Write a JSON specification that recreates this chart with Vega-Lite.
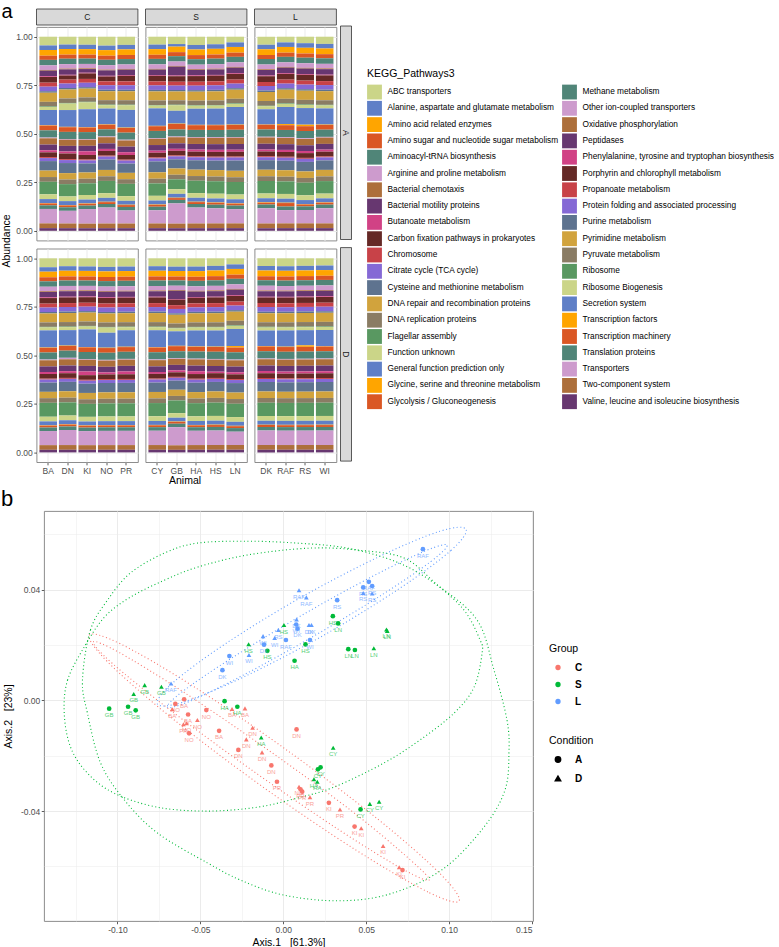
{
"$schema": "https://vega.github.io/schema/vega-lite/v6.json",
"padding": {"left": 1, "top": 1, "right": 0, "bottom": 0},
"background": "white",
"config": {
 "font": "Liberation Sans",
 "view": {"stroke": null},
 "axis": {"labelFontSize": 8.5, "labelColor": "#4d4d4d", "tickColor": "#333333", "tickSize": 2.75, "tickWidth": 0.8, "domain": false, "gridColor": "#ebebeb", "gridWidth": 1, "titleFontWeight": "normal", "titleFontSize": 10.5, "titleColor": "#000000", "labelPadding": 1.5},
 "legend": {"titleFontWeight": "normal", "titleColor": "#000000", "labelColor": "#000000", "padding": 0, "symbolLimit": 60},
 "title": {"fontWeight": "normal", "color": "#000000"}
},
"datasets": {
 "paths": [
  {"k":"p01","name":"ABC transporters","ord":1},
  {"k":"p02","name":"Alanine, aspartate and glutamate metabolism","ord":2},
  {"k":"p03","name":"Amino acid related enzymes","ord":3},
  {"k":"p04","name":"Amino sugar and nucleotide sugar metabolism","ord":4},
  {"k":"p05","name":"Aminoacyl-tRNA biosynthesis","ord":5},
  {"k":"p06","name":"Arginine and proline metabolism","ord":6},
  {"k":"p07","name":"Bacterial chemotaxis","ord":7},
  {"k":"p08","name":"Bacterial motility proteins","ord":8},
  {"k":"p09","name":"Butanoate metabolism","ord":9},
  {"k":"p10","name":"Carbon fixation pathways in prokaryotes","ord":10},
  {"k":"p11","name":"Chromosome","ord":11},
  {"k":"p12","name":"Citrate cycle (TCA cycle)","ord":12},
  {"k":"p13","name":"Cysteine and methionine metabolism","ord":13},
  {"k":"p14","name":"DNA repair and recombination proteins","ord":14},
  {"k":"p15","name":"DNA replication proteins","ord":15},
  {"k":"p16","name":"Flagellar assembly","ord":16},
  {"k":"p17","name":"Function unknown","ord":17},
  {"k":"p18","name":"General function prediction only","ord":18},
  {"k":"p19","name":"Glycine, serine and threonine metabolism","ord":19},
  {"k":"p20","name":"Glycolysis / Gluconeogenesis","ord":20},
  {"k":"p21","name":"Methane metabolism","ord":21},
  {"k":"p22","name":"Other ion-coupled transporters","ord":22},
  {"k":"p23","name":"Oxidative phosphorylation","ord":23},
  {"k":"p24","name":"Peptidases","ord":24},
  {"k":"p25","name":"Phenylalanine, tyrosine and tryptophan biosynthesis","ord":25},
  {"k":"p26","name":"Porphyrin and chlorophyll metabolism","ord":26},
  {"k":"p27","name":"Propanoate metabolism","ord":27},
  {"k":"p28","name":"Protein folding and associated processing","ord":28},
  {"k":"p29","name":"Purine metabolism","ord":29},
  {"k":"p30","name":"Pyrimidine metabolism","ord":30},
  {"k":"p31","name":"Pyruvate metabolism","ord":31},
  {"k":"p32","name":"Ribosome","ord":32},
  {"k":"p33","name":"Ribosome Biogenesis","ord":33},
  {"k":"p34","name":"Secretion system","ord":34},
  {"k":"p35","name":"Transcription factors","ord":35},
  {"k":"p36","name":"Transcription machinery","ord":36},
  {"k":"p37","name":"Translation proteins","ord":37},
  {"k":"p38","name":"Transporters","ord":38},
  {"k":"p39","name":"Two-component system","ord":39},
  {"k":"p40","name":"Valine, leucine and isoleucine biosynthesis","ord":40}
 ],
 "bars": [
  {"g":"C","c":"A","a":"BA","p01":4.6,"p02":2.4,"p03":3.0,"p04":2.2,"p05":2.9,"p06":2.4,"p07":0.4,"p08":2.9,"p09":0.4,"p10":3.0,"p11":2.1,"p12":2.4,"p13":0.8,"p14":4.8,"p15":2.4,"p16":0.3,"p17":1.6,"p18":8.0,"p19":0.2,"p20":2.5,"p21":3.8,"p22":0.4,"p23":3.3,"p24":3.0,"p25":1.1,"p26":2.5,"p27":0.5,"p28":1.6,"p29":5.0,"p30":3.4,"p31":2.5,"p32":6.6,"p33":2.5,"p34":2.1,"p35":0.2,"p36":1.0,"p37":1.9,"p38":7.6,"p39":2.5,"p40":1.4},
  {"g":"C","c":"A","a":"DN","p01":4.2,"p02":2.4,"p03":3.0,"p04":2.2,"p05":2.9,"p06":2.4,"p07":0.4,"p08":2.9,"p09":0.4,"p10":2.2,"p11":2.1,"p12":2.4,"p13":0.8,"p14":4.8,"p15":2.4,"p16":0.3,"p17":3.5,"p18":9.0,"p19":0.2,"p20":2.5,"p21":3.8,"p22":0.4,"p23":3.3,"p24":3.0,"p25":1.1,"p26":3.0,"p27":0.5,"p28":1.6,"p29":5.4,"p30":3.4,"p31":2.5,"p32":6.6,"p33":2.5,"p34":2.1,"p35":0.2,"p36":1.0,"p37":1.9,"p38":6.8,"p39":2.5,"p40":1.4},
  {"g":"C","c":"A","a":"KI","p01":4.4,"p02":2.4,"p03":3.0,"p04":2.2,"p05":2.9,"p06":2.4,"p07":0.4,"p08":2.0,"p09":0.4,"p10":3.0,"p11":2.1,"p12":2.4,"p13":0.8,"p14":4.8,"p15":2.4,"p16":0.3,"p17":3.8,"p18":9.8,"p19":0.2,"p20":2.5,"p21":3.8,"p22":0.4,"p23":3.3,"p24":3.0,"p25":2.0,"p26":2.5,"p27":0.5,"p28":1.6,"p29":5.0,"p30":3.4,"p31":2.5,"p32":6.4,"p33":2.5,"p34":2.1,"p35":0.2,"p36":1.0,"p37":1.9,"p38":8.0,"p39":2.5,"p40":1.4},
  {"g":"C","c":"A","a":"NO","p01":4.8,"p02":2.4,"p03":3.0,"p04":2.2,"p05":2.9,"p06":2.4,"p07":0.4,"p08":2.9,"p09":0.4,"p10":2.6,"p11":2.1,"p12":2.4,"p13":0.8,"p14":4.8,"p15":2.4,"p16":0.3,"p17":1.8,"p18":8.5,"p19":0.2,"p20":2.5,"p21":3.8,"p22":0.4,"p23":3.3,"p24":3.0,"p25":1.1,"p26":2.5,"p27":0.5,"p28":1.6,"p29":5.6,"p30":3.4,"p31":2.5,"p32":6.6,"p33":2.5,"p34":2.1,"p35":0.2,"p36":1.0,"p37":1.9,"p38":8.6,"p39":2.5,"p40":1.4},
  {"g":"C","c":"A","a":"PR","p01":4.4,"p02":2.4,"p03":3.0,"p04":2.2,"p05":2.9,"p06":2.4,"p07":0.4,"p08":2.9,"p09":0.4,"p10":3.0,"p11":2.1,"p12":2.4,"p13":0.8,"p14":4.8,"p15":2.4,"p16":0.3,"p17":2.5,"p18":9.5,"p19":0.2,"p20":2.5,"p21":3.8,"p22":0.4,"p23":3.3,"p24":3.0,"p25":1.5,"p26":2.5,"p27":0.5,"p28":1.6,"p29":5.0,"p30":3.4,"p31":2.5,"p32":6.6,"p33":2.5,"p34":2.1,"p35":0.2,"p36":1.0,"p37":1.9,"p38":7.0,"p39":2.5,"p40":1.4},
  {"g":"S","c":"A","a":"CY","p01":4.2,"p02":2.4,"p03":3.0,"p04":2.2,"p05":2.9,"p06":2.4,"p07":0.4,"p08":2.9,"p09":0.4,"p10":3.0,"p11":2.1,"p12":2.4,"p13":0.8,"p14":4.8,"p15":2.4,"p16":0.3,"p17":1.5,"p18":9.3,"p19":0.2,"p20":2.5,"p21":3.8,"p22":0.4,"p23":3.3,"p24":3.0,"p25":1.1,"p26":2.5,"p27":0.5,"p28":1.6,"p29":5.8,"p30":3.4,"p31":2.5,"p32":6.6,"p33":2.5,"p34":2.1,"p35":0.2,"p36":1.0,"p37":1.9,"p38":7.0,"p39":2.5,"p40":1.4},
  {"g":"S","c":"A","a":"GB","p01":4.0,"p02":1.4,"p03":3.0,"p04":2.2,"p05":2.9,"p06":2.4,"p07":0.4,"p08":4.8,"p09":0.4,"p10":3.0,"p11":2.1,"p12":2.4,"p13":0.8,"p14":4.8,"p15":2.4,"p16":0.3,"p17":3.0,"p18":7.0,"p19":0.2,"p20":3.0,"p21":3.8,"p22":0.4,"p23":3.3,"p24":3.0,"p25":1.1,"p26":2.5,"p27":0.5,"p28":1.6,"p29":5.0,"p30":3.4,"p31":2.5,"p32":5.4,"p33":2.5,"p34":2.1,"p35":0.2,"p36":1.0,"p37":1.9,"p38":11.0,"p39":2.5,"p40":1.4},
  {"g":"S","c":"A","a":"HA","p01":4.4,"p02":2.4,"p03":3.0,"p04":2.2,"p05":2.9,"p06":2.4,"p07":0.4,"p08":2.9,"p09":0.4,"p10":3.0,"p11":2.1,"p12":2.4,"p13":0.8,"p14":4.8,"p15":2.4,"p16":0.3,"p17":1.6,"p18":8.6,"p19":0.2,"p20":2.5,"p21":3.8,"p22":0.4,"p23":3.3,"p24":3.0,"p25":1.1,"p26":2.5,"p27":0.5,"p28":1.6,"p29":5.0,"p30":3.4,"p31":2.5,"p32":6.6,"p33":2.5,"p34":2.1,"p35":0.2,"p36":1.0,"p37":1.9,"p38":8.5,"p39":2.5,"p40":1.4},
  {"g":"S","c":"A","a":"HS","p01":4.0,"p02":2.4,"p03":3.0,"p04":2.2,"p05":2.9,"p06":2.4,"p07":0.4,"p08":2.9,"p09":0.4,"p10":3.0,"p11":2.1,"p12":2.4,"p13":0.8,"p14":4.8,"p15":2.4,"p16":0.3,"p17":1.6,"p18":8.6,"p19":0.2,"p20":2.5,"p21":3.8,"p22":0.4,"p23":3.3,"p24":3.0,"p25":1.1,"p26":2.5,"p27":0.5,"p28":1.6,"p29":5.0,"p30":3.4,"p31":2.5,"p32":6.6,"p33":2.5,"p34":2.1,"p35":0.2,"p36":1.0,"p37":1.9,"p38":8.0,"p39":2.5,"p40":1.4},
  {"g":"S","c":"A","a":"LN","p01":3.0,"p02":2.4,"p03":3.0,"p04":2.2,"p05":2.9,"p06":2.4,"p07":0.4,"p08":2.9,"p09":0.4,"p10":3.0,"p11":2.1,"p12":2.4,"p13":0.8,"p14":4.8,"p15":2.4,"p16":0.3,"p17":1.6,"p18":9.3,"p19":0.2,"p20":2.5,"p21":3.8,"p22":0.4,"p23":3.3,"p24":3.0,"p25":1.1,"p26":2.5,"p27":0.5,"p28":1.6,"p29":5.4,"p30":3.4,"p31":2.5,"p32":6.6,"p33":2.5,"p34":2.1,"p35":0.2,"p36":1.0,"p37":1.9,"p38":7.5,"p39":2.5,"p40":1.4},
  {"g":"L","c":"A","a":"DK","p01":4.2,"p02":2.4,"p03":3.0,"p04":2.2,"p05":2.9,"p06":2.4,"p07":0.4,"p08":2.9,"p09":0.4,"p10":3.0,"p11":2.1,"p12":2.4,"p13":0.8,"p14":4.8,"p15":2.4,"p16":0.3,"p17":1.6,"p18":8.0,"p19":0.2,"p20":2.5,"p21":3.8,"p22":0.4,"p23":3.3,"p24":3.0,"p25":1.1,"p26":2.5,"p27":0.5,"p28":1.6,"p29":5.0,"p30":3.4,"p31":2.5,"p32":6.6,"p33":2.5,"p34":2.1,"p35":0.2,"p36":1.0,"p37":1.9,"p38":8.0,"p39":2.5,"p40":1.4},
  {"g":"L","c":"A","a":"RAF","p01":3.0,"p02":2.4,"p03":3.0,"p04":2.2,"p05":2.9,"p06":2.4,"p07":0.4,"p08":2.9,"p09":0.4,"p10":3.0,"p11":2.1,"p12":2.4,"p13":0.8,"p14":4.8,"p15":2.4,"p16":0.3,"p17":1.6,"p18":9.0,"p19":0.6,"p20":2.5,"p21":3.8,"p22":0.4,"p23":3.3,"p24":3.0,"p25":1.1,"p26":2.5,"p27":0.5,"p28":1.6,"p29":5.0,"p30":3.4,"p31":2.5,"p32":6.6,"p33":2.5,"p34":2.1,"p35":0.2,"p36":1.8,"p37":1.9,"p38":7.0,"p39":2.5,"p40":1.4},
  {"g":"L","c":"A","a":"RS","p01":3.4,"p02":2.4,"p03":3.0,"p04":2.2,"p05":2.9,"p06":2.4,"p07":0.4,"p08":2.9,"p09":0.4,"p10":3.0,"p11":2.1,"p12":2.4,"p13":0.8,"p14":4.8,"p15":2.4,"p16":0.3,"p17":1.6,"p18":8.7,"p19":0.8,"p20":2.5,"p21":3.8,"p22":0.4,"p23":3.3,"p24":3.0,"p25":1.1,"p26":2.5,"p27":0.5,"p28":1.6,"p29":5.0,"p30":3.4,"p31":2.5,"p32":6.6,"p33":2.5,"p34":2.1,"p35":0.2,"p36":1.0,"p37":1.9,"p38":7.0,"p39":2.5,"p40":1.4},
  {"g":"L","c":"A","a":"WI","p01":3.8,"p02":2.4,"p03":3.0,"p04":2.2,"p05":2.9,"p06":2.4,"p07":0.4,"p08":2.9,"p09":0.4,"p10":3.0,"p11":2.1,"p12":2.4,"p13":0.8,"p14":4.8,"p15":2.4,"p16":0.3,"p17":1.6,"p18":8.5,"p19":0.2,"p20":2.5,"p21":3.8,"p22":0.4,"p23":3.3,"p24":3.0,"p25":1.1,"p26":2.5,"p27":0.5,"p28":1.6,"p29":5.0,"p30":3.4,"p31":2.5,"p32":6.6,"p33":2.5,"p34":2.1,"p35":0.2,"p36":1.0,"p37":1.9,"p38":8.0,"p39":2.5,"p40":1.4},
  {"g":"C","c":"D","a":"BA","p01":4.8,"p02":2.4,"p03":3.0,"p04":2.2,"p05":2.9,"p06":2.4,"p07":0.4,"p08":2.9,"p09":0.4,"p10":3.0,"p11":2.1,"p12":2.4,"p13":0.8,"p14":4.8,"p15":2.4,"p16":0.3,"p17":1.6,"p18":9.2,"p19":0.2,"p20":2.5,"p21":3.8,"p22":0.4,"p23":3.3,"p24":3.0,"p25":1.1,"p26":2.5,"p27":0.5,"p28":1.6,"p29":5.0,"p30":3.4,"p31":2.5,"p32":7.5,"p33":2.5,"p34":2.1,"p35":0.2,"p36":1.0,"p37":1.9,"p38":7.6,"p39":2.5,"p40":1.4},
  {"g":"C","c":"D","a":"DN","p01":4.2,"p02":2.4,"p03":3.0,"p04":2.2,"p05":2.9,"p06":2.4,"p07":0.4,"p08":2.9,"p09":0.4,"p10":3.0,"p11":2.1,"p12":2.4,"p13":0.8,"p14":4.8,"p15":2.4,"p16":0.3,"p17":1.6,"p18":8.2,"p19":0.2,"p20":2.5,"p21":3.8,"p22":0.8,"p23":3.3,"p24":3.0,"p25":1.1,"p26":2.5,"p27":0.5,"p28":1.6,"p29":5.0,"p30":3.4,"p31":2.5,"p32":7.0,"p33":2.5,"p34":2.1,"p35":0.2,"p36":1.0,"p37":1.9,"p38":8.0,"p39":2.5,"p40":1.4},
  {"g":"C","c":"D","a":"KI","p01":4.4,"p02":2.4,"p03":3.0,"p04":2.2,"p05":2.9,"p06":2.4,"p07":0.4,"p08":2.9,"p09":0.4,"p10":3.0,"p11":2.1,"p12":2.4,"p13":0.8,"p14":4.8,"p15":2.4,"p16":0.3,"p17":1.6,"p18":9.5,"p19":0.2,"p20":2.5,"p21":3.8,"p22":0.4,"p23":3.3,"p24":3.0,"p25":2.0,"p26":2.5,"p27":0.5,"p28":1.6,"p29":5.0,"p30":3.4,"p31":2.5,"p32":7.0,"p33":2.5,"p34":2.1,"p35":0.2,"p36":1.0,"p37":1.9,"p38":7.6,"p39":2.5,"p40":1.4},
  {"g":"C","c":"D","a":"NO","p01":4.6,"p02":2.4,"p03":3.0,"p04":2.2,"p05":2.9,"p06":2.4,"p07":0.4,"p08":2.9,"p09":0.4,"p10":3.0,"p11":2.1,"p12":2.4,"p13":0.8,"p14":4.8,"p15":2.4,"p16":0.3,"p17":2.8,"p18":8.0,"p19":0.2,"p20":2.5,"p21":3.8,"p22":0.4,"p23":3.3,"p24":3.0,"p25":1.1,"p26":2.5,"p27":0.5,"p28":1.6,"p29":5.0,"p30":3.4,"p31":2.5,"p32":7.0,"p33":2.5,"p34":2.1,"p35":0.2,"p36":1.0,"p37":1.9,"p38":7.6,"p39":2.5,"p40":1.4},
  {"g":"C","c":"D","a":"PR","p01":4.4,"p02":2.4,"p03":3.0,"p04":2.2,"p05":2.9,"p06":2.4,"p07":0.4,"p08":2.9,"p09":0.4,"p10":3.0,"p11":2.1,"p12":2.4,"p13":0.8,"p14":4.8,"p15":2.4,"p16":0.3,"p17":1.6,"p18":8.8,"p19":0.2,"p20":2.5,"p21":3.8,"p22":0.4,"p23":3.3,"p24":3.0,"p25":1.5,"p26":2.5,"p27":0.5,"p28":1.6,"p29":5.0,"p30":3.4,"p31":2.5,"p32":7.0,"p33":2.5,"p34":2.1,"p35":0.2,"p36":1.0,"p37":1.9,"p38":7.6,"p39":2.5,"p40":1.4},
  {"g":"S","c":"D","a":"CY","p01":4.2,"p02":2.4,"p03":3.0,"p04":2.2,"p05":2.9,"p06":2.4,"p07":0.4,"p08":2.9,"p09":0.4,"p10":3.0,"p11":2.1,"p12":2.4,"p13":0.8,"p14":4.8,"p15":2.4,"p16":0.3,"p17":1.6,"p18":9.0,"p19":0.2,"p20":2.5,"p21":3.8,"p22":0.4,"p23":3.3,"p24":3.0,"p25":1.0,"p26":2.5,"p27":0.5,"p28":1.6,"p29":5.0,"p30":3.4,"p31":2.5,"p32":7.0,"p33":2.5,"p34":2.1,"p35":0.2,"p36":1.0,"p37":1.9,"p38":7.6,"p39":2.5,"p40":1.4},
  {"g":"S","c":"D","a":"GB","p01":4.6,"p02":2.4,"p03":3.0,"p04":2.2,"p05":2.9,"p06":2.4,"p07":0.4,"p08":4.5,"p09":0.4,"p10":3.0,"p11":2.1,"p12":2.4,"p13":0.8,"p14":4.8,"p15":2.4,"p16":0.3,"p17":1.6,"p18":8.0,"p19":0.2,"p20":2.8,"p21":3.8,"p22":0.4,"p23":3.3,"p24":3.0,"p25":1.1,"p26":2.5,"p27":0.5,"p28":1.6,"p29":5.0,"p30":3.4,"p31":2.5,"p32":7.0,"p33":2.5,"p34":2.1,"p35":0.2,"p36":1.0,"p37":1.9,"p38":10.0,"p39":2.5,"p40":1.4},
  {"g":"S","c":"D","a":"HA","p01":4.4,"p02":2.4,"p03":3.0,"p04":2.2,"p05":2.9,"p06":2.4,"p07":0.4,"p08":2.9,"p09":0.4,"p10":3.0,"p11":2.1,"p12":2.4,"p13":0.8,"p14":4.8,"p15":2.4,"p16":0.3,"p17":1.6,"p18":8.5,"p19":0.2,"p20":2.5,"p21":3.8,"p22":0.4,"p23":3.3,"p24":3.0,"p25":1.5,"p26":2.5,"p27":0.5,"p28":1.6,"p29":5.0,"p30":3.4,"p31":2.5,"p32":7.0,"p33":2.5,"p34":2.1,"p35":0.2,"p36":1.0,"p37":1.9,"p38":7.6,"p39":2.5,"p40":1.4},
  {"g":"S","c":"D","a":"HS","p01":4.0,"p02":2.4,"p03":3.0,"p04":2.2,"p05":2.9,"p06":2.4,"p07":0.4,"p08":2.9,"p09":0.4,"p10":3.0,"p11":2.1,"p12":2.4,"p13":0.8,"p14":4.8,"p15":2.4,"p16":0.3,"p17":1.6,"p18":8.5,"p19":0.2,"p20":2.5,"p21":3.8,"p22":0.4,"p23":3.3,"p24":3.0,"p25":0.8,"p26":2.5,"p27":0.5,"p28":1.6,"p29":5.0,"p30":3.4,"p31":2.5,"p32":7.0,"p33":2.5,"p34":2.1,"p35":0.2,"p36":1.0,"p37":1.9,"p38":7.6,"p39":2.5,"p40":1.4},
  {"g":"S","c":"D","a":"LN","p01":3.2,"p02":2.4,"p03":3.0,"p04":2.2,"p05":2.9,"p06":2.4,"p07":0.4,"p08":2.9,"p09":0.4,"p10":3.0,"p11":2.1,"p12":2.4,"p13":0.8,"p14":4.8,"p15":2.4,"p16":0.3,"p17":1.6,"p18":9.0,"p19":0.8,"p20":2.5,"p21":3.8,"p22":0.4,"p23":3.3,"p24":3.0,"p25":1.1,"p26":2.5,"p27":0.5,"p28":1.6,"p29":5.0,"p30":3.4,"p31":2.5,"p32":7.0,"p33":2.5,"p34":2.1,"p35":0.2,"p36":1.0,"p37":1.9,"p38":7.0,"p39":2.5,"p40":1.4},
  {"g":"L","c":"D","a":"DK","p01":4.0,"p02":2.4,"p03":3.0,"p04":2.2,"p05":2.9,"p06":2.4,"p07":0.4,"p08":2.9,"p09":0.4,"p10":3.0,"p11":2.1,"p12":2.4,"p13":0.8,"p14":4.8,"p15":2.4,"p16":0.3,"p17":1.6,"p18":8.2,"p19":0.2,"p20":2.5,"p21":3.8,"p22":0.4,"p23":3.3,"p24":3.0,"p25":1.1,"p26":2.5,"p27":0.5,"p28":1.6,"p29":5.0,"p30":3.4,"p31":2.5,"p32":7.0,"p33":2.5,"p34":2.1,"p35":0.2,"p36":1.0,"p37":1.9,"p38":7.6,"p39":2.5,"p40":1.4},
  {"g":"L","c":"D","a":"RAF","p01":4.2,"p02":2.4,"p03":3.0,"p04":2.2,"p05":2.9,"p06":2.4,"p07":0.4,"p08":2.9,"p09":0.4,"p10":3.0,"p11":2.1,"p12":2.4,"p13":0.8,"p14":4.8,"p15":2.4,"p16":0.3,"p17":1.6,"p18":8.6,"p19":0.2,"p20":2.5,"p21":3.8,"p22":0.4,"p23":3.3,"p24":3.0,"p25":1.1,"p26":2.5,"p27":0.5,"p28":1.6,"p29":5.0,"p30":3.4,"p31":2.5,"p32":7.0,"p33":2.5,"p34":2.1,"p35":0.2,"p36":1.0,"p37":1.9,"p38":7.6,"p39":2.5,"p40":1.4},
  {"g":"L","c":"D","a":"RS","p01":4.0,"p02":2.4,"p03":3.0,"p04":2.2,"p05":2.9,"p06":2.4,"p07":0.4,"p08":2.9,"p09":0.4,"p10":3.0,"p11":2.1,"p12":2.4,"p13":0.8,"p14":4.8,"p15":2.4,"p16":0.3,"p17":1.6,"p18":8.0,"p19":0.8,"p20":2.5,"p21":3.8,"p22":0.4,"p23":3.3,"p24":3.0,"p25":1.1,"p26":2.5,"p27":0.5,"p28":1.6,"p29":5.0,"p30":3.4,"p31":2.5,"p32":7.0,"p33":2.5,"p34":2.1,"p35":0.2,"p36":1.0,"p37":1.9,"p38":7.6,"p39":2.5,"p40":1.4},
  {"g":"L","c":"D","a":"WI","p01":3.8,"p02":2.4,"p03":3.0,"p04":2.2,"p05":2.9,"p06":2.4,"p07":0.4,"p08":2.9,"p09":0.4,"p10":3.0,"p11":2.1,"p12":2.4,"p13":0.8,"p14":4.8,"p15":2.4,"p16":0.3,"p17":1.6,"p18":8.5,"p19":0.2,"p20":2.5,"p21":3.8,"p22":0.4,"p23":3.3,"p24":3.0,"p25":1.1,"p26":2.5,"p27":0.5,"p28":1.6,"p29":5.0,"p30":3.4,"p31":2.5,"p32":7.0,"p33":2.5,"p34":2.1,"p35":0.2,"p36":1.0,"p37":1.9,"p38":7.6,"p39":2.5,"p40":1.4}
 ],
 "pts": [
  {"g":"C","c":"A","a":"BA","x":-0.0598,"y":0.0004},{"g":"C","c":"A","a":"BA","x":-0.0574,"y":-0.0051},{"g":"C","c":"A","a":"BA","x":-0.0387,"y":-0.0110},
  {"g":"C","c":"A","a":"NO","x":-0.0651,"y":-0.0013},{"g":"C","c":"A","a":"NO","x":-0.0464,"y":-0.0035},{"g":"C","c":"A","a":"NO","x":-0.0568,"y":-0.0119},
  {"g":"C","c":"A","a":"DN","x":-0.0271,"y":-0.0179},{"g":"C","c":"A","a":"DN","x":-0.0072,"y":-0.0235},{"g":"C","c":"A","a":"DN","x":0.0080,"y":-0.0105},
  {"g":"C","c":"A","a":"PR","x":-0.0038,"y":-0.0294},{"g":"C","c":"A","a":"PR","x":0.0104,"y":-0.0321},{"g":"C","c":"A","a":"PR","x":0.0114,"y":-0.0330},
  {"g":"C","c":"A","a":"KI","x":0.0275,"y":-0.0370},{"g":"C","c":"A","a":"KI","x":0.0430,"y":-0.0456},{"g":"C","c":"A","a":"KI","x":0.0719,"y":-0.0613},
  {"g":"C","c":"D","a":"BA","x":-0.0669,"y":-0.0032},{"g":"C","c":"D","a":"BA","x":-0.0309,"y":-0.0031},{"g":"C","c":"D","a":"BA","x":-0.0231,"y":-0.0029},
  {"g":"C","c":"D","a":"NO","x":-0.0583,"y":-0.0083},{"g":"C","c":"D","a":"NO","x":-0.0518,"y":-0.0071},{"g":"C","c":"D","a":"NO","x":0.0095,"y":-0.0312},
  {"g":"C","c":"D","a":"PR","x":-0.0602,"y":-0.0086},{"g":"C","c":"D","a":"PR","x":0.0161,"y":-0.0350},{"g":"C","c":"D","a":"PR","x":0.0342,"y":-0.0394},
  {"g":"C","c":"D","a":"DN","x":-0.0185,"y":-0.0099},{"g":"C","c":"D","a":"DN","x":-0.0223,"y":-0.0141},{"g":"C","c":"D","a":"DN","x":-0.0128,"y":-0.0188},
  {"g":"C","c":"D","a":"KI","x":0.0470,"y":-0.0462},{"g":"C","c":"D","a":"KI","x":0.0602,"y":-0.0526},{"g":"C","c":"D","a":"KI","x":0.0699,"y":-0.0603},
  {"g":"S","c":"A","a":"GB","x":-0.1050,"y":-0.0030},{"g":"S","c":"A","a":"GB","x":-0.0936,"y":-0.0023},{"g":"S","c":"A","a":"GB","x":-0.0890,"y":-0.0036},
  {"g":"S","c":"A","a":"HA","x":-0.0354,"y":-0.0003},{"g":"S","c":"A","a":"HA","x":-0.0277,"y":-0.0023},{"g":"S","c":"A","a":"HA","x":0.0068,"y":0.0143},
  {"g":"S","c":"A","a":"HS","x":-0.0096,"y":0.0179},{"g":"S","c":"A","a":"HS","x":0.0134,"y":0.0202},{"g":"S","c":"A","a":"HS","x":0.0299,"y":0.0304},
  {"g":"S","c":"A","a":"LN","x":0.0331,"y":0.0278},{"g":"S","c":"A","a":"LN","x":0.0392,"y":0.0185},{"g":"S","c":"A","a":"LN","x":0.0432,"y":0.0182},
  {"g":"S","c":"A","a":"CY","x":0.0209,"y":-0.0249},{"g":"S","c":"A","a":"CY","x":0.0225,"y":-0.0242},{"g":"S","c":"A","a":"CY","x":0.0466,"y":-0.0394},
  {"g":"S","c":"D","a":"GB","x":-0.0836,"y":0.0055},{"g":"S","c":"D","a":"GB","x":-0.0735,"y":0.0049},{"g":"S","c":"D","a":"GB","x":-0.0902,"y":0.0023},
  {"g":"S","c":"D","a":"HA","x":-0.0133,"y":-0.0134},{"g":"S","c":"D","a":"HA","x":0.0185,"y":-0.0285},{"g":"S","c":"D","a":"HA","x":0.0205,"y":-0.0294},
  {"g":"S","c":"D","a":"HS","x":-0.0209,"y":0.0203},{"g":"S","c":"D","a":"HS","x":0.0004,"y":0.0272},
  {"g":"S","c":"D","a":"LN","x":0.0546,"y":0.0188},{"g":"S","c":"D","a":"LN","x":0.0622,"y":0.0256},{"g":"S","c":"D","a":"LN","x":0.0627,"y":0.0251},
  {"g":"S","c":"D","a":"CY","x":0.0301,"y":-0.0171},{"g":"S","c":"D","a":"CY","x":0.0522,"y":-0.0374},{"g":"S","c":"D","a":"CY","x":0.0578,"y":-0.0366},
  {"g":"L","c":"A","a":"DK","x":-0.0116,"y":0.0201},{"g":"L","c":"A","a":"DK","x":-0.0367,"y":0.0109},{"g":"L","c":"A","a":"DK","x":0.0086,"y":0.0259},
  {"g":"L","c":"A","a":"RAF","x":0.0016,"y":0.0218},{"g":"L","c":"A","a":"RAF","x":0.0842,"y":0.0546},{"g":"L","c":"A","a":"RAF","x":0.0516,"y":0.0428},
  {"g":"L","c":"A","a":"RS","x":0.0482,"y":0.0408},{"g":"L","c":"A","a":"RS","x":0.0536,"y":0.0413},{"g":"L","c":"A","a":"RS","x":0.0325,"y":0.0362},
  {"g":"L","c":"A","a":"WI","x":-0.0325,"y":0.0160},{"g":"L","c":"A","a":"WI","x":0.0161,"y":0.0218},{"g":"L","c":"A","a":"WI","x":0.0078,"y":0.0274},
  {"g":"L","c":"D","a":"DK","x":0.0080,"y":0.0292},{"g":"L","c":"D","a":"DK","x":0.0155,"y":0.0272},{"g":"L","c":"D","a":"DK","x":0.0170,"y":0.0272},
  {"g":"L","c":"D","a":"RAF","x":-0.0677,"y":0.0061},{"g":"L","c":"D","a":"RAF","x":0.0095,"y":0.0398},{"g":"L","c":"D","a":"RAF","x":0.0139,"y":0.0372},
  {"g":"L","c":"D","a":"RS","x":-0.0030,"y":0.0254},{"g":"L","c":"D","a":"RS","x":0.0482,"y":0.0388},{"g":"L","c":"D","a":"RS","x":0.0536,"y":0.0386},
  {"g":"L","c":"D","a":"WI","x":-0.0122,"y":0.0232},{"g":"L","c":"D","a":"WI","x":-0.0052,"y":0.0225},{"g":"L","c":"D","a":"WI","x":-0.0207,"y":0.0164}
 ],
 "ell": [
  {"eid":"R1","g":"C","i":0,"x":0.1060,"y":-0.0725},{"eid":"R1","g":"C","i":1,"x":0.0872,"y":-0.0692},{"eid":"R1","g":"C","i":2,"x":0.0436,"y":-0.0540},{"eid":"R1","g":"C","i":3,"x":-0.0132,"y":-0.0309},{"eid":"R1","g":"C","i":4,"x":-0.0680,"y":-0.0060},{"eid":"R1","g":"C","i":5,"x":-0.1059,"y":0.0139},{"eid":"R1","g":"C","i":6,"x":-0.1170,"y":0.0236},{"eid":"R1","g":"C","i":7,"x":-0.0982,"y":0.0204},{"eid":"R1","g":"C","i":8,"x":-0.0546,"y":0.0052},{"eid":"R1","g":"C","i":9,"x":0.0022,"y":-0.0180},{"eid":"R1","g":"C","i":10,"x":0.0570,"y":-0.0429},{"eid":"R1","g":"C","i":11,"x":0.0949,"y":-0.0628},
  {"eid":"R2","g":"C","i":0,"x":0.0880,"y":-0.0649},{"eid":"R2","g":"C","i":1,"x":0.0721,"y":-0.0610},{"eid":"R2","g":"C","i":2,"x":0.0334,"y":-0.0467},{"eid":"R2","g":"C","i":3,"x":-0.0178,"y":-0.0257},{"eid":"R2","g":"C","i":4,"x":-0.0678,"y":-0.0037},{"eid":"R2","g":"C","i":5,"x":-0.1032,"y":0.0134},{"eid":"R2","g":"C","i":6,"x":-0.1145,"y":0.0211},{"eid":"R2","g":"C","i":7,"x":-0.0987,"y":0.0172},{"eid":"R2","g":"C","i":8,"x":-0.0599,"y":0.0029},{"eid":"R2","g":"C","i":9,"x":-0.0087,"y":-0.0181},{"eid":"R2","g":"C","i":10,"x":0.0413,"y":-0.0400},{"eid":"R2","g":"C","i":11,"x":0.0766,"y":-0.0576},
  {"eid":"B1","g":"L","i":0,"x":0.1102,"y":0.0618},{"eid":"B1","g":"L","i":1,"x":0.1010,"y":0.0541},{"eid":"B1","g":"L","i":2,"x":0.0693,"y":0.0401},{"eid":"B1","g":"L","i":3,"x":0.0237,"y":0.0233},{"eid":"B1","g":"L","i":4,"x":-0.0237,"y":0.0085},{"eid":"B1","g":"L","i":5,"x":-0.0602,"y":-0.0006},{"eid":"B1","g":"L","i":6,"x":-0.0759,"y":-0.0013},{"eid":"B1","g":"L","i":7,"x":-0.0667,"y":0.0063},{"eid":"B1","g":"L","i":8,"x":-0.0350,"y":0.0204},{"eid":"B1","g":"L","i":9,"x":0.0107,"y":0.0372},{"eid":"B1","g":"L","i":10,"x":0.0581,"y":0.0520},{"eid":"B1","g":"L","i":11,"x":0.0945,"y":0.0611},
  {"eid":"B2","g":"L","i":0,"x":0.0988,"y":0.0561},{"eid":"B2","g":"L","i":1,"x":0.0893,"y":0.0503},{"eid":"B2","g":"L","i":2,"x":0.0597,"y":0.0382},{"eid":"B2","g":"L","i":3,"x":0.0181,"y":0.0231},{"eid":"B2","g":"L","i":4,"x":-0.0245,"y":0.0090},{"eid":"B2","g":"L","i":5,"x":-0.0567,"y":-0.0004},{"eid":"B2","g":"L","i":6,"x":-0.0699,"y":-0.0024},{"eid":"B2","g":"L","i":7,"x":-0.0603,"y":0.0034},{"eid":"B2","g":"L","i":8,"x":-0.0308,"y":0.0154},{"eid":"B2","g":"L","i":9,"x":0.0108,"y":0.0306},{"eid":"B2","g":"L","i":10,"x":0.0535,"y":0.0447},{"eid":"B2","g":"L","i":11,"x":0.0857,"y":0.0540},
  {"eid":"G1","g":"S","i":0,"x":-0.1211,"y":0.0073},{"eid":"G1","g":"S","i":1,"x":-0.1163,"y":0.0254},{"eid":"G1","g":"S","i":2,"x":-0.1060,"y":0.0362},{"eid":"G1","g":"S","i":3,"x":-0.0922,"y":0.0460},{"eid":"G1","g":"S","i":4,"x":-0.0717,"y":0.0532},{"eid":"G1","g":"S","i":5,"x":-0.0518,"y":0.0568},{"eid":"G1","g":"S","i":6,"x":-0.0217,"y":0.0575},{"eid":"G1","g":"S","i":7,"x":0.0084,"y":0.0568},{"eid":"G1","g":"S","i":8,"x":0.0386,"y":0.0550},{"eid":"G1","g":"S","i":9,"x":0.0687,"y":0.0499},{"eid":"G1","g":"S","i":10,"x":0.0928,"y":0.0416},{"eid":"G1","g":"S","i":11,"x":0.1169,"y":0.0290},{"eid":"G1","g":"S","i":12,"x":0.1271,"y":0.0109},{"eid":"G1","g":"S","i":13,"x":0.1349,"y":-0.0071},{"eid":"G1","g":"S","i":14,"x":0.1361,"y":-0.0190},{"eid":"G1","g":"S","i":15,"x":0.1337,"y":-0.0324},{"eid":"G1","g":"S","i":16,"x":0.1211,"y":-0.0457},{"eid":"G1","g":"S","i":17,"x":0.0964,"y":-0.0609},{"eid":"G1","g":"S","i":18,"x":0.0645,"y":-0.0699},{"eid":"G1","g":"S","i":19,"x":0.0331,"y":-0.0724},{"eid":"G1","g":"S","i":20,"x":0.0000,"y":-0.0703},{"eid":"G1","g":"S","i":21,"x":-0.0259,"y":-0.0649},{"eid":"G1","g":"S","i":22,"x":-0.0458,"y":-0.0587},{"eid":"G1","g":"S","i":23,"x":-0.0759,"y":-0.0479},{"eid":"G1","g":"S","i":24,"x":-0.0958,"y":-0.0360},{"eid":"G1","g":"S","i":25,"x":-0.1102,"y":-0.0226},{"eid":"G1","g":"S","i":26,"x":-0.1181,"y":-0.0046},
  {"eid":"G2","g":"S","i":0,"x":-0.1321,"y":-0.0046},{"eid":"G2","g":"S","i":1,"x":-0.1301,"y":0.0073},{"eid":"G2","g":"S","i":2,"x":-0.1201,"y":0.0192},{"eid":"G2","g":"S","i":3,"x":-0.1078,"y":0.0301},{"eid":"G2","g":"S","i":4,"x":-0.0922,"y":0.0373},{"eid":"G2","g":"S","i":5,"x":-0.0717,"y":0.0434},{"eid":"G2","g":"S","i":6,"x":-0.0518,"y":0.0481},{"eid":"G2","g":"S","i":7,"x":-0.0217,"y":0.0525},{"eid":"G2","g":"S","i":8,"x":0.0163,"y":0.0550},{"eid":"G2","g":"S","i":9,"x":0.0464,"y":0.0542},{"eid":"G2","g":"S","i":10,"x":0.0729,"y":0.0514},{"eid":"G2","g":"S","i":11,"x":0.0910,"y":0.0427},{"eid":"G2","g":"S","i":12,"x":0.1090,"y":0.0326},{"eid":"G2","g":"S","i":13,"x":0.1187,"y":0.0218},{"eid":"G2","g":"S","i":14,"x":0.1199,"y":0.0171},{"eid":"G2","g":"S","i":15,"x":0.1151,"y":0.0048},{"eid":"G2","g":"S","i":16,"x":0.1030,"y":-0.0046},{"eid":"G2","g":"S","i":17,"x":0.0825,"y":-0.0143},{"eid":"G2","g":"S","i":18,"x":0.0608,"y":-0.0226},{"eid":"G2","g":"S","i":19,"x":0.0307,"y":-0.0313},{"eid":"G2","g":"S","i":20,"x":0.0084,"y":-0.0353},{"eid":"G2","g":"S","i":21,"x":-0.0157,"y":-0.0386},{"eid":"G2","g":"S","i":22,"x":-0.0458,"y":-0.0400},{"eid":"G2","g":"S","i":23,"x":-0.0759,"y":-0.0386},{"eid":"G2","g":"S","i":24,"x":-0.1018,"y":-0.0336},{"eid":"G2","g":"S","i":25,"x":-0.1181,"y":-0.0263},{"eid":"G2","g":"S","i":26,"x":-0.1283,"y":-0.0169}
 ]
},
"vconcat": [
 {
  "hconcat": [
   {"vconcat": [
     {"width": 12, "height": 22, "data": {"values": [{"t": "a"}]}, "mark": {"type": "text", "fontSize": 20, "baseline": "middle", "color": "#000000"},
      "encoding": {"x": {"field": "t", "type": "nominal", "axis": null, "scale": {"paddingInner": 0, "paddingOuter": 0}}, "y": {"field": "t", "type": "nominal", "axis": null, "scale": {"paddingInner": 0, "paddingOuter": 0}}, "text": {"field": "t"}}},
     {"width": 12, "height": 436, "data": {"values": [{"t": "Abundance"}]}, "mark": {"type": "text", "fontSize": 10.5, "angle": 270, "baseline": "middle", "color": "#000000"},
      "encoding": {"x": {"field": "t", "type": "nominal", "axis": null, "scale": {"paddingInner": 0, "paddingOuter": 0}}, "y": {"field": "t", "type": "nominal", "axis": null, "scale": {"paddingInner": 0, "paddingOuter": 0}}, "text": {"field": "t"}}}
    ], "spacing": 0},
   {"vconcat": [
     {"vconcat": [
       {"width": 10, "height": 6.3, "data": {"values": [{"s": "x"}]}, "mark": {"type": "rect", "opacity": 0},
        "encoding": {"x": {"field": "s", "type": "nominal", "axis": null, "scale": {"paddingInner": 0, "paddingOuter": 0}}, "y": {"field": "s", "type": "nominal", "axis": null, "scale": {"paddingInner": 0, "paddingOuter": 0}}}},
       {"hconcat": [
         {"hconcat": [
           {
            "vconcat": [
             {"vconcat": [
               {"width": 101.4, "height": 16, "data": {"values": [{"s": "C"}]},
                "encoding": {"x": {"field": "s", "type": "nominal", "axis": null, "scale": {"paddingInner": 0, "paddingOuter": 0}}, "y": {"field": "s", "type": "nominal", "axis": null, "scale": {"paddingInner": 0, "paddingOuter": 0}}},
                "layer": [{"mark": {"type": "rect", "fill": "#d9d9d9", "stroke": "#333333", "strokeWidth": 0.8}}, {"mark": {"type": "text", "fontSize": 8.5, "color": "#1a1a1a"}, "encoding": {"text": {"field": "s"}}}]},
               {"width": {"step": 19.5}, "height": 213.5, "view": {"stroke": "#808080", "strokeWidth": 0.9},
                "data": {"name": "bars"},
                "transform": [{"filter": "datum.g === 'C' && datum.c === 'A'"}, {"fold": ["p01","p02","p03","p04","p05","p06","p07","p08","p09","p10","p11","p12","p13","p14","p15","p16","p17","p18","p19","p20","p21","p22","p23","p24","p25","p26","p27","p28","p29","p30","p31","p32","p33","p34","p35","p36","p37","p38","p39","p40"], "as": ["k", "v"]}, {"lookup": "k", "from": {"data": {"name": "paths"}, "key": "k", "fields": ["name", "ord"]}}],
                "mark": {"type": "bar"},
                "encoding": {
                 "x": {"field": "a", "type": "nominal", "sort": ["BA","DN","KI","NO","PR"], "scale": {"paddingInner": 0.1, "paddingOuter": 0.15}, "axis": {"title": null, "labels": false, "ticks": false, "grid": true, "bandPosition": 0.5}},
                 "y": {"field": "v", "type": "quantitative", "stack": "normalize", "scale": {"domain": [-0.05, 1.05], "nice": false, "zero": false}, "axis": {"title": null, "values": [0, 0.25, 0.5, 0.75, 1], "labelExpr": "format(datum.value, '.2f')", "grid": true}},
                 "fill": {"field": "name", "type": "nominal", "scale": {"domain": ["ABC transporters","Alanine, aspartate and glutamate metabolism","Amino acid related enzymes","Amino sugar and nucleotide sugar metabolism","Aminoacyl-tRNA biosynthesis","Arginine and proline metabolism","Bacterial chemotaxis","Bacterial motility proteins","Butanoate metabolism","Carbon fixation pathways in prokaryotes","Chromosome","Citrate cycle (TCA cycle)","Cysteine and methionine metabolism","DNA repair and recombination proteins","DNA replication proteins","Flagellar assembly","Function unknown","General function prediction only","Glycine, serine and threonine metabolism","Glycolysis / Gluconeogenesis","Methane metabolism","Other ion-coupled transporters","Oxidative phosphorylation","Peptidases","Phenylalanine, tyrosine and tryptophan biosynthesis","Porphyrin and chlorophyll metabolism","Propanoate metabolism","Protein folding and associated processing","Purine metabolism","Pyrimidine metabolism","Pyruvate metabolism","Ribosome","Ribosome Biogenesis","Secretion system","Transcription factors","Transcription machinery","Translation proteins","Transporters","Two-component system","Valine, leucine and isoleucine biosynthesis"], "range": ["#CBD588","#5F7FC7","#FFA500","#DA5724","#508578","#CD9BCD","#AD6F3B","#673770","#D14285","#652926","#C84248","#8569D5","#5E738F","#D1A33D","#8A7C64","#599861","#CBD588","#5F7FC7","#FFA500","#DA5724","#508578","#CD9BCD","#AD6F3B","#673770","#D14285","#652926","#C84248","#8569D5","#5E738F","#D1A33D","#8A7C64","#599861","#CBD588","#5F7FC7","#FFA500","#DA5724","#508578","#CD9BCD","#AD6F3B","#673770"]},
                          "legend": {"title": "KEGG_Pathways3", "orient": "none", "legendX": 366, "legendY": 68, "columns": 2, "columnPadding": 3, "rowPadding": 1.3, "symbolType": "square", "symbolSize": 220, "symbolStrokeWidth": 0, "labelFontSize": 8.3, "labelLimit": 300, "titleFontSize": 10.5, "titlePadding": 5, "labelOffset": 5.5, "symbolLimit": 60}},
                 "order": {"field": "ord", "type": "quantitative", "sort": "descending"}
                }}
              ], "spacing": 0},
             {"width": {"step": 19.5}, "height": 213.5, "view": {"stroke": "#808080", "strokeWidth": 0.9},
              "data": {"name": "bars"},
              "transform": [{"filter": "datum.g === 'C' && datum.c === 'D'"}, {"fold": ["p01","p02","p03","p04","p05","p06","p07","p08","p09","p10","p11","p12","p13","p14","p15","p16","p17","p18","p19","p20","p21","p22","p23","p24","p25","p26","p27","p28","p29","p30","p31","p32","p33","p34","p35","p36","p37","p38","p39","p40"], "as": ["k", "v"]}, {"lookup": "k", "from": {"data": {"name": "paths"}, "key": "k", "fields": ["name", "ord"]}}],
              "mark": {"type": "bar"},
              "encoding": {
               "x": {"field": "a", "type": "nominal", "sort": ["BA","DN","KI","NO","PR"], "scale": {"paddingInner": 0.1, "paddingOuter": 0.15}, "axis": {"title": null, "labelAngle": 0, "grid": true, "bandPosition": 0.5}},
               "y": {"field": "v", "type": "quantitative", "stack": "normalize", "scale": {"domain": [-0.05, 1.05], "nice": false, "zero": false}, "axis": {"title": null, "values": [0, 0.25, 0.5, 0.75, 1], "labelExpr": "format(datum.value, '.2f')", "grid": true}},
               "fill": {"field": "name", "type": "nominal", "scale": {"domain": ["ABC transporters","Alanine, aspartate and glutamate metabolism","Amino acid related enzymes","Amino sugar and nucleotide sugar metabolism","Aminoacyl-tRNA biosynthesis","Arginine and proline metabolism","Bacterial chemotaxis","Bacterial motility proteins","Butanoate metabolism","Carbon fixation pathways in prokaryotes","Chromosome","Citrate cycle (TCA cycle)","Cysteine and methionine metabolism","DNA repair and recombination proteins","DNA replication proteins","Flagellar assembly","Function unknown","General function prediction only","Glycine, serine and threonine metabolism","Glycolysis / Gluconeogenesis","Methane metabolism","Other ion-coupled transporters","Oxidative phosphorylation","Peptidases","Phenylalanine, tyrosine and tryptophan biosynthesis","Porphyrin and chlorophyll metabolism","Propanoate metabolism","Protein folding and associated processing","Purine metabolism","Pyrimidine metabolism","Pyruvate metabolism","Ribosome","Ribosome Biogenesis","Secretion system","Transcription factors","Transcription machinery","Translation proteins","Transporters","Two-component system","Valine, leucine and isoleucine biosynthesis"], "range": ["#CBD588","#5F7FC7","#FFA500","#DA5724","#508578","#CD9BCD","#AD6F3B","#673770","#D14285","#652926","#C84248","#8569D5","#5E738F","#D1A33D","#8A7C64","#599861","#CBD588","#5F7FC7","#FFA500","#DA5724","#508578","#CD9BCD","#AD6F3B","#673770","#D14285","#652926","#C84248","#8569D5","#5E738F","#D1A33D","#8A7C64","#599861","#CBD588","#5F7FC7","#FFA500","#DA5724","#508578","#CD9BCD","#AD6F3B","#673770"]},
                        "legend": {"title": "KEGG_Pathways3", "orient": "none", "legendX": 366, "legendY": 68, "columns": 2, "columnPadding": 3, "rowPadding": 1.3, "symbolType": "square", "symbolSize": 220, "symbolStrokeWidth": 0, "labelFontSize": 8.3, "labelLimit": 300, "titleFontSize": 10.5, "titlePadding": 5, "labelOffset": 5.5, "symbolLimit": 60}},
               "order": {"field": "ord", "type": "quantitative", "sort": "descending"}
              }}
            ],
            "spacing": 6.6
           },
           {
            "vconcat": [
             {"vconcat": [
               {"width": 101.4, "height": 16, "data": {"values": [{"s": "S"}]},
                "encoding": {"x": {"field": "s", "type": "nominal", "axis": null, "scale": {"paddingInner": 0, "paddingOuter": 0}}, "y": {"field": "s", "type": "nominal", "axis": null, "scale": {"paddingInner": 0, "paddingOuter": 0}}},
                "layer": [{"mark": {"type": "rect", "fill": "#d9d9d9", "stroke": "#333333", "strokeWidth": 0.8}}, {"mark": {"type": "text", "fontSize": 8.5, "color": "#1a1a1a"}, "encoding": {"text": {"field": "s"}}}]},
               {"width": {"step": 19.5}, "height": 213.5, "view": {"stroke": "#808080", "strokeWidth": 0.9},
                "data": {"name": "bars"},
                "transform": [{"filter": "datum.g === 'S' && datum.c === 'A'"}, {"fold": ["p01","p02","p03","p04","p05","p06","p07","p08","p09","p10","p11","p12","p13","p14","p15","p16","p17","p18","p19","p20","p21","p22","p23","p24","p25","p26","p27","p28","p29","p30","p31","p32","p33","p34","p35","p36","p37","p38","p39","p40"], "as": ["k", "v"]}, {"lookup": "k", "from": {"data": {"name": "paths"}, "key": "k", "fields": ["name", "ord"]}}],
                "mark": {"type": "bar"},
                "encoding": {
                 "x": {"field": "a", "type": "nominal", "sort": ["CY","GB","HA","HS","LN"], "scale": {"paddingInner": 0.1, "paddingOuter": 0.15}, "axis": {"title": null, "labels": false, "ticks": false, "grid": true, "bandPosition": 0.5}},
                 "y": {"field": "v", "type": "quantitative", "stack": "normalize", "scale": {"domain": [-0.05, 1.05], "nice": false, "zero": false}, "axis": {"title": null, "values": [0, 0.25, 0.5, 0.75, 1], "labels": false, "ticks": false, "grid": true}},
                 "fill": {"field": "name", "type": "nominal", "scale": {"domain": ["ABC transporters","Alanine, aspartate and glutamate metabolism","Amino acid related enzymes","Amino sugar and nucleotide sugar metabolism","Aminoacyl-tRNA biosynthesis","Arginine and proline metabolism","Bacterial chemotaxis","Bacterial motility proteins","Butanoate metabolism","Carbon fixation pathways in prokaryotes","Chromosome","Citrate cycle (TCA cycle)","Cysteine and methionine metabolism","DNA repair and recombination proteins","DNA replication proteins","Flagellar assembly","Function unknown","General function prediction only","Glycine, serine and threonine metabolism","Glycolysis / Gluconeogenesis","Methane metabolism","Other ion-coupled transporters","Oxidative phosphorylation","Peptidases","Phenylalanine, tyrosine and tryptophan biosynthesis","Porphyrin and chlorophyll metabolism","Propanoate metabolism","Protein folding and associated processing","Purine metabolism","Pyrimidine metabolism","Pyruvate metabolism","Ribosome","Ribosome Biogenesis","Secretion system","Transcription factors","Transcription machinery","Translation proteins","Transporters","Two-component system","Valine, leucine and isoleucine biosynthesis"], "range": ["#CBD588","#5F7FC7","#FFA500","#DA5724","#508578","#CD9BCD","#AD6F3B","#673770","#D14285","#652926","#C84248","#8569D5","#5E738F","#D1A33D","#8A7C64","#599861","#CBD588","#5F7FC7","#FFA500","#DA5724","#508578","#CD9BCD","#AD6F3B","#673770","#D14285","#652926","#C84248","#8569D5","#5E738F","#D1A33D","#8A7C64","#599861","#CBD588","#5F7FC7","#FFA500","#DA5724","#508578","#CD9BCD","#AD6F3B","#673770"]},
                          "legend": {"title": "KEGG_Pathways3", "orient": "none", "legendX": 366, "legendY": 68, "columns": 2, "columnPadding": 3, "rowPadding": 1.3, "symbolType": "square", "symbolSize": 220, "symbolStrokeWidth": 0, "labelFontSize": 8.3, "labelLimit": 300, "titleFontSize": 10.5, "titlePadding": 5, "labelOffset": 5.5, "symbolLimit": 60}},
                 "order": {"field": "ord", "type": "quantitative", "sort": "descending"}
                }}
              ], "spacing": 0},
             {"width": {"step": 19.5}, "height": 213.5, "view": {"stroke": "#808080", "strokeWidth": 0.9},
              "data": {"name": "bars"},
              "transform": [{"filter": "datum.g === 'S' && datum.c === 'D'"}, {"fold": ["p01","p02","p03","p04","p05","p06","p07","p08","p09","p10","p11","p12","p13","p14","p15","p16","p17","p18","p19","p20","p21","p22","p23","p24","p25","p26","p27","p28","p29","p30","p31","p32","p33","p34","p35","p36","p37","p38","p39","p40"], "as": ["k", "v"]}, {"lookup": "k", "from": {"data": {"name": "paths"}, "key": "k", "fields": ["name", "ord"]}}],
              "mark": {"type": "bar"},
              "encoding": {
               "x": {"field": "a", "type": "nominal", "sort": ["CY","GB","HA","HS","LN"], "scale": {"paddingInner": 0.1, "paddingOuter": 0.15}, "axis": {"title": null, "labelAngle": 0, "grid": true, "bandPosition": 0.5}},
               "y": {"field": "v", "type": "quantitative", "stack": "normalize", "scale": {"domain": [-0.05, 1.05], "nice": false, "zero": false}, "axis": {"title": null, "values": [0, 0.25, 0.5, 0.75, 1], "labels": false, "ticks": false, "grid": true}},
               "fill": {"field": "name", "type": "nominal", "scale": {"domain": ["ABC transporters","Alanine, aspartate and glutamate metabolism","Amino acid related enzymes","Amino sugar and nucleotide sugar metabolism","Aminoacyl-tRNA biosynthesis","Arginine and proline metabolism","Bacterial chemotaxis","Bacterial motility proteins","Butanoate metabolism","Carbon fixation pathways in prokaryotes","Chromosome","Citrate cycle (TCA cycle)","Cysteine and methionine metabolism","DNA repair and recombination proteins","DNA replication proteins","Flagellar assembly","Function unknown","General function prediction only","Glycine, serine and threonine metabolism","Glycolysis / Gluconeogenesis","Methane metabolism","Other ion-coupled transporters","Oxidative phosphorylation","Peptidases","Phenylalanine, tyrosine and tryptophan biosynthesis","Porphyrin and chlorophyll metabolism","Propanoate metabolism","Protein folding and associated processing","Purine metabolism","Pyrimidine metabolism","Pyruvate metabolism","Ribosome","Ribosome Biogenesis","Secretion system","Transcription factors","Transcription machinery","Translation proteins","Transporters","Two-component system","Valine, leucine and isoleucine biosynthesis"], "range": ["#CBD588","#5F7FC7","#FFA500","#DA5724","#508578","#CD9BCD","#AD6F3B","#673770","#D14285","#652926","#C84248","#8569D5","#5E738F","#D1A33D","#8A7C64","#599861","#CBD588","#5F7FC7","#FFA500","#DA5724","#508578","#CD9BCD","#AD6F3B","#673770","#D14285","#652926","#C84248","#8569D5","#5E738F","#D1A33D","#8A7C64","#599861","#CBD588","#5F7FC7","#FFA500","#DA5724","#508578","#CD9BCD","#AD6F3B","#673770"]},
                        "legend": {"title": "KEGG_Pathways3", "orient": "none", "legendX": 366, "legendY": 68, "columns": 2, "columnPadding": 3, "rowPadding": 1.3, "symbolType": "square", "symbolSize": 220, "symbolStrokeWidth": 0, "labelFontSize": 8.3, "labelLimit": 300, "titleFontSize": 10.5, "titlePadding": 5, "labelOffset": 5.5, "symbolLimit": 60}},
               "order": {"field": "ord", "type": "quantitative", "sort": "descending"}
              }}
            ],
            "spacing": 6.6
           },
           {
            "vconcat": [
             {"vconcat": [
               {"width": 81.9, "height": 16, "data": {"values": [{"s": "L"}]},
                "encoding": {"x": {"field": "s", "type": "nominal", "axis": null, "scale": {"paddingInner": 0, "paddingOuter": 0}}, "y": {"field": "s", "type": "nominal", "axis": null, "scale": {"paddingInner": 0, "paddingOuter": 0}}},
                "layer": [{"mark": {"type": "rect", "fill": "#d9d9d9", "stroke": "#333333", "strokeWidth": 0.8}}, {"mark": {"type": "text", "fontSize": 8.5, "color": "#1a1a1a"}, "encoding": {"text": {"field": "s"}}}]},
               {"width": {"step": 19.5}, "height": 213.5, "view": {"stroke": "#808080", "strokeWidth": 0.9},
                "data": {"name": "bars"},
                "transform": [{"filter": "datum.g === 'L' && datum.c === 'A'"}, {"fold": ["p01","p02","p03","p04","p05","p06","p07","p08","p09","p10","p11","p12","p13","p14","p15","p16","p17","p18","p19","p20","p21","p22","p23","p24","p25","p26","p27","p28","p29","p30","p31","p32","p33","p34","p35","p36","p37","p38","p39","p40"], "as": ["k", "v"]}, {"lookup": "k", "from": {"data": {"name": "paths"}, "key": "k", "fields": ["name", "ord"]}}],
                "mark": {"type": "bar"},
                "encoding": {
                 "x": {"field": "a", "type": "nominal", "sort": ["DK","RAF","RS","WI"], "scale": {"paddingInner": 0.1, "paddingOuter": 0.15}, "axis": {"title": null, "labels": false, "ticks": false, "grid": true, "bandPosition": 0.5}},
                 "y": {"field": "v", "type": "quantitative", "stack": "normalize", "scale": {"domain": [-0.05, 1.05], "nice": false, "zero": false}, "axis": {"title": null, "values": [0, 0.25, 0.5, 0.75, 1], "labels": false, "ticks": false, "grid": true}},
                 "fill": {"field": "name", "type": "nominal", "scale": {"domain": ["ABC transporters","Alanine, aspartate and glutamate metabolism","Amino acid related enzymes","Amino sugar and nucleotide sugar metabolism","Aminoacyl-tRNA biosynthesis","Arginine and proline metabolism","Bacterial chemotaxis","Bacterial motility proteins","Butanoate metabolism","Carbon fixation pathways in prokaryotes","Chromosome","Citrate cycle (TCA cycle)","Cysteine and methionine metabolism","DNA repair and recombination proteins","DNA replication proteins","Flagellar assembly","Function unknown","General function prediction only","Glycine, serine and threonine metabolism","Glycolysis / Gluconeogenesis","Methane metabolism","Other ion-coupled transporters","Oxidative phosphorylation","Peptidases","Phenylalanine, tyrosine and tryptophan biosynthesis","Porphyrin and chlorophyll metabolism","Propanoate metabolism","Protein folding and associated processing","Purine metabolism","Pyrimidine metabolism","Pyruvate metabolism","Ribosome","Ribosome Biogenesis","Secretion system","Transcription factors","Transcription machinery","Translation proteins","Transporters","Two-component system","Valine, leucine and isoleucine biosynthesis"], "range": ["#CBD588","#5F7FC7","#FFA500","#DA5724","#508578","#CD9BCD","#AD6F3B","#673770","#D14285","#652926","#C84248","#8569D5","#5E738F","#D1A33D","#8A7C64","#599861","#CBD588","#5F7FC7","#FFA500","#DA5724","#508578","#CD9BCD","#AD6F3B","#673770","#D14285","#652926","#C84248","#8569D5","#5E738F","#D1A33D","#8A7C64","#599861","#CBD588","#5F7FC7","#FFA500","#DA5724","#508578","#CD9BCD","#AD6F3B","#673770"]},
                          "legend": {"title": "KEGG_Pathways3", "orient": "none", "legendX": 366, "legendY": 68, "columns": 2, "columnPadding": 3, "rowPadding": 1.3, "symbolType": "square", "symbolSize": 220, "symbolStrokeWidth": 0, "labelFontSize": 8.3, "labelLimit": 300, "titleFontSize": 10.5, "titlePadding": 5, "labelOffset": 5.5, "symbolLimit": 60}},
                 "order": {"field": "ord", "type": "quantitative", "sort": "descending"}
                }}
              ], "spacing": 0},
             {"width": {"step": 19.5}, "height": 213.5, "view": {"stroke": "#808080", "strokeWidth": 0.9},
              "data": {"name": "bars"},
              "transform": [{"filter": "datum.g === 'L' && datum.c === 'D'"}, {"fold": ["p01","p02","p03","p04","p05","p06","p07","p08","p09","p10","p11","p12","p13","p14","p15","p16","p17","p18","p19","p20","p21","p22","p23","p24","p25","p26","p27","p28","p29","p30","p31","p32","p33","p34","p35","p36","p37","p38","p39","p40"], "as": ["k", "v"]}, {"lookup": "k", "from": {"data": {"name": "paths"}, "key": "k", "fields": ["name", "ord"]}}],
              "mark": {"type": "bar"},
              "encoding": {
               "x": {"field": "a", "type": "nominal", "sort": ["DK","RAF","RS","WI"], "scale": {"paddingInner": 0.1, "paddingOuter": 0.15}, "axis": {"title": null, "labelAngle": 0, "grid": true, "bandPosition": 0.5}},
               "y": {"field": "v", "type": "quantitative", "stack": "normalize", "scale": {"domain": [-0.05, 1.05], "nice": false, "zero": false}, "axis": {"title": null, "values": [0, 0.25, 0.5, 0.75, 1], "labels": false, "ticks": false, "grid": true}},
               "fill": {"field": "name", "type": "nominal", "scale": {"domain": ["ABC transporters","Alanine, aspartate and glutamate metabolism","Amino acid related enzymes","Amino sugar and nucleotide sugar metabolism","Aminoacyl-tRNA biosynthesis","Arginine and proline metabolism","Bacterial chemotaxis","Bacterial motility proteins","Butanoate metabolism","Carbon fixation pathways in prokaryotes","Chromosome","Citrate cycle (TCA cycle)","Cysteine and methionine metabolism","DNA repair and recombination proteins","DNA replication proteins","Flagellar assembly","Function unknown","General function prediction only","Glycine, serine and threonine metabolism","Glycolysis / Gluconeogenesis","Methane metabolism","Other ion-coupled transporters","Oxidative phosphorylation","Peptidases","Phenylalanine, tyrosine and tryptophan biosynthesis","Porphyrin and chlorophyll metabolism","Propanoate metabolism","Protein folding and associated processing","Purine metabolism","Pyrimidine metabolism","Pyruvate metabolism","Ribosome","Ribosome Biogenesis","Secretion system","Transcription factors","Transcription machinery","Translation proteins","Transporters","Two-component system","Valine, leucine and isoleucine biosynthesis"], "range": ["#CBD588","#5F7FC7","#FFA500","#DA5724","#508578","#CD9BCD","#AD6F3B","#673770","#D14285","#652926","#C84248","#8569D5","#5E738F","#D1A33D","#8A7C64","#599861","#CBD588","#5F7FC7","#FFA500","#DA5724","#508578","#CD9BCD","#AD6F3B","#673770","#D14285","#652926","#C84248","#8569D5","#5E738F","#D1A33D","#8A7C64","#599861","#CBD588","#5F7FC7","#FFA500","#DA5724","#508578","#CD9BCD","#AD6F3B","#673770"]},
                        "legend": {"title": "KEGG_Pathways3", "orient": "none", "legendX": 366, "legendY": 68, "columns": 2, "columnPadding": 3, "rowPadding": 1.3, "symbolType": "square", "symbolSize": 220, "symbolStrokeWidth": 0, "labelFontSize": 8.3, "labelLimit": 300, "titleFontSize": 10.5, "titlePadding": 5, "labelOffset": 5.5, "symbolLimit": 60}},
               "order": {"field": "ord", "type": "quantitative", "sort": "descending"}
              }}
            ],
            "spacing": 6.6
           }
          ], "spacing": 6},
         {
          "vconcat": [
           {"vconcat": [
             {"width": 11, "height": 16, "data": {"values": [{"s": "x"}]}, "mark": {"type": "rect", "opacity": 0},
              "encoding": {"x": {"field": "s", "type": "nominal", "axis": null, "scale": {"paddingInner": 0, "paddingOuter": 0}}, "y": {"field": "s", "type": "nominal", "axis": null, "scale": {"paddingInner": 0, "paddingOuter": 0}}}},
             {"width": 11, "height": 213.5, "data": {"values": [{"s": "A"}]},
              "encoding": {"x": {"field": "s", "type": "nominal", "axis": null, "scale": {"paddingInner": 0, "paddingOuter": 0}}, "y": {"field": "s", "type": "nominal", "axis": null, "scale": {"paddingInner": 0, "paddingOuter": 0}}},
              "layer": [{"mark": {"type": "rect", "fill": "#d9d9d9", "stroke": "#333333", "strokeWidth": 0.8}}, {"mark": {"type": "text", "fontSize": 8.5, "color": "#1a1a1a", "angle": 90}, "encoding": {"text": {"field": "s"}}}]}
            ], "spacing": 0},
           {"width": 11, "height": 213.5, "data": {"values": [{"s": "D"}]},
            "encoding": {"x": {"field": "s", "type": "nominal", "axis": null, "scale": {"paddingInner": 0, "paddingOuter": 0}}, "y": {"field": "s", "type": "nominal", "axis": null, "scale": {"paddingInner": 0, "paddingOuter": 0}}},
            "layer": [{"mark": {"type": "rect", "fill": "#d9d9d9", "stroke": "#333333", "strokeWidth": 0.8}}, {"mark": {"type": "text", "fontSize": 8.5, "color": "#1a1a1a", "angle": 90}, "encoding": {"text": {"field": "s"}}}]}
          ],
          "spacing": 6.6
         }
        ], "spacing": 2}
      ], "spacing": 0},
     {"width": 297, "height": 10, "data": {"values": [{"t": "Animal"}]}, "mark": {"type": "text", "fontSize": 10.5, "baseline": "middle", "color": "#000000"},
      "encoding": {"x": {"field": "t", "type": "nominal", "axis": null, "scale": {"paddingInner": 0, "paddingOuter": 0}}, "y": {"field": "t", "type": "nominal", "axis": null, "scale": {"paddingInner": 0, "paddingOuter": 0}}, "text": {"field": "t"}}}
    ], "spacing": 0}
  ],
  "spacing": 1.5
 },
 {
  "title": {"text": "b", "anchor": "start", "fontSize": 22, "fontWeight": "normal", "baseline": "alphabetic", "offset": -17},
  "hconcat": [
   {"width": 1, "height": 10, "data": {"values": [{"s": "x"}]}, "mark": {"type": "rect", "opacity": 0},
    "encoding": {"x": {"field": "s", "type": "nominal", "axis": null, "scale": {"paddingInner": 0, "paddingOuter": 0}}, "y": {"field": "s", "type": "nominal", "axis": null, "scale": {"paddingInner": 0, "paddingOuter": 0}}}},
   {
    "width": 489, "height": 410,
    "view": {"stroke": "#808080", "strokeWidth": 0.9},
    "layer": [
     {"data": {"name": "ell"},
      "mark": {"type": "line", "interpolate": "cardinal-closed", "strokeDash": [1, 2.6], "strokeWidth": 1.1, "clip": true},
      "encoding": {
       "x": {"field": "x", "type": "quantitative", "scale": {"domain": [-0.1443, 0.1506], "nice": false, "zero": false},
             "axis": {"title": "Axis.1\u00a0\u00a0\u00a0[61.3%]", "values": [-0.125,-0.1,-0.075,-0.05,-0.025,0,0.025,0.05,0.075,0.1,0.125,0.15], "labelExpr": "round(datum.value*40) % 2 != 0 ? '' : (datum.value < 0 ? '-' : '') + format(abs(datum.value), '.2f')", "grid": true, "gridWidth": {"condition": {"test": "round(datum.value*40) % 2 != 0", "value": 0.5}, "value": 1}, "tickColor": {"condition": {"test": "round(datum.value*40) % 2 != 0", "value": "transparent"}, "value": "#333333"}, "titlePadding": 4}},
       "y": {"field": "y", "type": "quantitative", "scale": {"domain": [-0.0797, 0.0684], "nice": false, "zero": false},
             "axis": {"title": "Axis.2\u00a0\u00a0\u00a0[23%]", "values": [-0.06,-0.04,-0.02,0,0.02,0.04,0.06], "labelExpr": "round(datum.value*50) % 2 != 0 ? '' : (datum.value < 0 ? '-' : '') + format(abs(datum.value), '.2f')", "grid": true, "gridWidth": {"condition": {"test": "round(datum.value*50) % 2 != 0", "value": 0.5}, "value": 1}, "tickColor": {"condition": {"test": "round(datum.value*50) % 2 != 0", "value": "transparent"}, "value": "#333333"}, "titlePadding": 7}},
       "stroke": {"field": "g", "type": "nominal", "scale": {"domain": ["L","S","C"], "range": ["#619CFF","#00BA38","#F8766D"]}, "legend": null},
       "detail": {"field": "eid", "type": "nominal"},
       "order": {"field": "i", "type": "quantitative"}
      }},
     {"data": {"name": "pts"},
      "mark": {"type": "point", "filled": true, "size": 22, "opacity": 1},
      "encoding": {
       "x": {"field": "x", "type": "quantitative"},
       "y": {"field": "y", "type": "quantitative"},
       "color": {"field": "g", "type": "nominal", "scale": {"domain": ["C","S","L"], "range": ["#F8766D","#00BA38","#619CFF"]},
                 "legend": {"title": "Group", "orient": "none", "legendX": 548, "legendY": 643, "labelFontWeight": "bold", "labelFontSize": 10, "titleFontSize": 10.5, "symbolSize": 28, "symbolType": "circle", "rowPadding": 7, "labelOffset": 12, "titlePadding": 8, "symbolOffset": 4}},
       "shape": {"field": "c", "type": "nominal", "scale": {"domain": ["A","D"], "range": ["circle","triangle-up"]},
                 "legend": {"title": "Condition", "orient": "none", "legendX": 548, "legendY": 735, "labelFontWeight": "bold", "labelFontSize": 10, "titleFontSize": 10.5, "symbolSize": 28, "rowPadding": 7, "labelOffset": 12, "titlePadding": 8, "symbolOffset": 4, "symbolFillColor": "#000000", "symbolStrokeColor": "#000000"}}
      }},
     {"data": {"name": "pts"},
      "mark": {"type": "text", "dy": 6.5, "fontSize": 6, "opacity": 0.7},
      "encoding": {
       "x": {"field": "x", "type": "quantitative"},
       "y": {"field": "y", "type": "quantitative"},
       "text": {"field": "a", "type": "nominal"},
       "color": {"field": "g", "type": "nominal", "scale": {"domain": ["C","S","L"], "range": ["#F8766D","#00BA38","#619CFF"]},
                 "legend": {"title": "Group", "orient": "none", "legendX": 548, "legendY": 643, "labelFontWeight": "bold", "labelFontSize": 10, "titleFontSize": 10.5, "symbolSize": 28, "symbolType": "circle", "rowPadding": 7, "labelOffset": 12, "titlePadding": 8, "symbolOffset": 4}}
      }}
    ]
   }
  ],
  "spacing": 0
 }
],
"spacing": 0
}
